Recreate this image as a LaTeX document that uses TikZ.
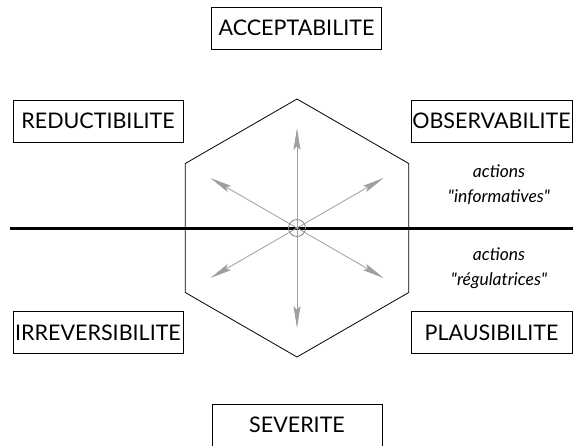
\documentclass[tikz,border=0pt]{standalone}
\usepackage{fontspec}
\setmainfont{Lato}
\usetikzlibrary{arrows.meta}

\begin{document}
\begin{tikzpicture}[x=1pt,y=-1pt,
  critere/.style={draw,black,line width=.8pt,minimum width=170pt,minimum height=42pt,inner sep=0pt,font=\fontsize{21.5}{25}\selectfont},
  action/.style={align=center,font=\fontsize{17.5}{25}\selectfont\itshape}]
\def\l{22pt}
\def\w{7pt}
\def\r{129pt}
\useasboundingbox (0,0) rectangle (573,445);
% les six criteres
\node [critere, name=accept]   at (296.5,28)  {ACCEPTABILITE};
\node [critere, name=reduct]   at (98,121)    {REDUCTIBILITE};
\node [critere, minimum width=161pt, name=observ] at (491.5,121) {OBSERVABILITE};
\node [critere, name=irrev]    at (98,332.5)  {IRREVERSIBILITE};
\node [critere, minimum width=161pt, name=plaus]  at (491.5,332.5) {PLAUSIBILITE};
\node [critere, name=sever]    at (297,425)   {SEVERITE};
% hexagone
\coordinate (O) at (297,228);
\draw [line width=.8pt] (O) ++(90:\r) -- ++(-30:\r) -- ++(-90:\r) -- ++(-150:\r) -- ++(150:\r) -- ++(90:\r) -- cycle;
% axe informatif / regulateur
\draw [line width=3pt] (10,228) -- (573,228);
\node [action, name=info] at (499,184.5) {actions\\\textquotedbl informatives\textquotedbl};
\node [action, name=regul] at (499,268.5) {actions\\\textquotedbl régulatrices\textquotedbl};
% fleches
\node [draw=gray,circle,inner sep=0pt,minimum size=17pt,line width=.8pt, name=pivot] at (O) {};
\foreach \a in {90,30,-30,-90,-150,150}
  \draw [gray!75,line width=.8pt,-{Stealth[length=\l, width=\w, inset=4pt]}] (pivot.center) -- ++(\a:100pt);
\end{tikzpicture}
\end{document}
